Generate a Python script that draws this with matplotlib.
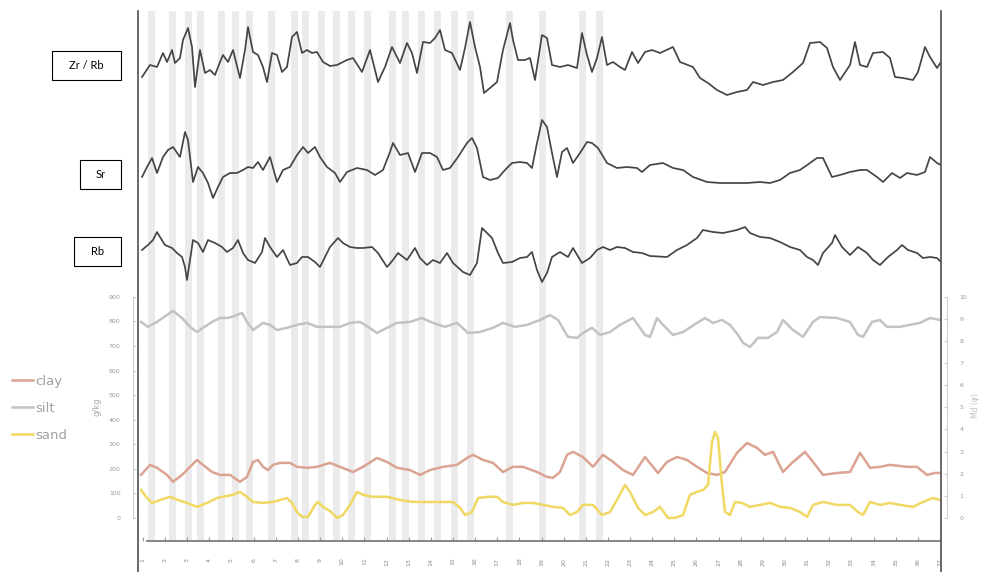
import numpy as np
import matplotlib
matplotlib.use("Agg")
import matplotlib.pyplot as plt
from matplotlib.patches import Rectangle

W, H, DPI = 982, 572, 100

# ---------------- XRF core-scanner signals (relative units) ----------------
zr_rb_depth = [1, 9, 16, 22, 26, 31, 34, 39, 42, 47, 51, 54, 59, 64, 69, 74, 79, 82, 87, 92,
               99, 104, 107, 112, 117, 122, 126, 131, 136, 141, 146, 151, 156, 161, 166, 171, 176, 182, 189, 196,
               206, 212, 221, 229, 237, 244, 251, 259, 266, 271, 276, 282, 289, 294, 299, 304, 311, 319, 324, 329,
               334, 339, 343, 349, 356, 362, 369, 372, 377, 384, 389, 394, 401, 406, 411, 419, 427, 436, 441, 446,
               451, 456, 461, 466, 472, 479, 484, 491, 497, 504, 511, 519, 532, 539, 552, 559, 567, 576, 586, 596,
               606, 612, 622, 632, 642, 652, 662, 669, 679, 686, 692, 699, 709, 714, 719, 726, 732, 742, 749, 754,
               762, 772, 777, 784, 789, 796, 800]
zr_rb = [23, 35, 33, 47, 38, 50, 37, 42, 60, 72, 53, 13, 50, 27, 30, 25, 38, 45, 38, 50,
         22, 50, 73, 48, 45, 33, 18, 47, 45, 28, 33, 63, 68, 47, 50, 47, 48, 38, 34, 35,
         40, 42, 28, 50, 18, 33, 53, 37, 57, 47, 27, 58, 57, 62, 70, 50, 47, 30, 52, 78,
         53, 33, 7, 12, 18, 50, 77, 60, 40, 40, 42, 20, 65, 62, 35, 33, 35, 32, 67, 45,
         28, 42, 63, 35, 38, 33, 30, 48, 37, 48, 50, 47, 53, 38, 33, 22, 17, 10, 5, 8,
         10, 18, 15, 18, 20, 28, 37, 57, 58, 52, 33, 20, 35, 58, 35, 33, 47, 48, 42, 23,
         22, 20, 28, 53, 43, 32, 38]

sr_depth = [1, 6, 11, 16, 22, 27, 32, 39, 44, 47, 52, 57, 62, 67, 72, 77, 82, 89, 96, 102,
            107, 112, 117, 122, 129, 136, 142, 149, 156, 162, 167, 174, 179, 186, 194, 199, 206, 216, 226, 234,
            242, 249, 252, 259, 267, 274, 281, 289, 296, 302, 309, 317, 326, 331, 336, 342, 349, 357, 364, 371,
            379, 386, 391, 396, 401, 406, 411, 416, 421, 426, 432, 439, 446, 451, 457, 466, 476, 486, 496, 501,
            509, 522, 532, 542, 552, 566, 579, 596, 606, 619, 629, 639, 649, 659, 669, 676, 682, 691, 699, 709,
            719, 726, 736, 742, 751, 759, 766, 776, 784, 789, 796, 800]
sr = [23, 33, 42, 27, 43, 50, 53, 43, 68, 60, 18, 33, 27, 17, 2, 13, 23, 27, 27, 30,
      33, 32, 38, 30, 43, 18, 30, 33, 45, 53, 47, 53, 43, 33, 27, 18, 28, 32, 30, 25,
      30, 48, 57, 45, 47, 28, 47, 47, 43, 30, 32, 43, 57, 62, 52, 23, 20, 22, 30, 37,
      38, 37, 32, 57, 80, 73, 47, 23, 48, 52, 37, 47, 58, 57, 52, 37, 32, 33, 32, 28,
      35, 37, 32, 30, 23, 18, 17, 17, 17, 18, 17, 20, 27, 30, 37, 42, 42, 23, 25, 28,
      30, 30, 23, 18, 27, 22, 27, 25, 28, 43, 37, 35]

rb_depth = [1, 7, 12, 16, 19, 24, 31, 36, 41, 44, 46, 49, 52, 57, 62, 67, 74, 81, 86, 92,
            97, 102, 107, 114, 121, 124, 129, 136, 142, 149, 156, 161, 167, 174, 179, 186, 189, 197, 202, 209,
            216, 222, 231, 237, 246, 252, 257, 266, 274, 279, 286, 292, 299, 306, 312, 322, 329, 336, 341, 346,
            351, 357, 362, 371, 379, 386, 391, 396, 401, 406, 411, 419, 427, 432, 441, 449, 456, 462, 469, 476,
            484, 492, 501, 509, 526, 536, 546, 556, 562, 572, 582, 596, 604, 609, 619, 629, 639, 649, 659, 666,
            672, 677, 682, 691, 694, 701, 709, 717, 726, 732, 739, 747, 756, 761, 767, 776, 782, 789, 796, 800]
rb = [35, 40, 45, 53, 48, 40, 37, 32, 28, 18, 5, 25, 45, 42, 33, 45, 42, 38, 33, 37,
      45, 32, 25, 22, 33, 47, 38, 28, 35, 20, 22, 28, 28, 23, 18, 32, 38, 47, 42, 38,
      37, 37, 38, 32, 18, 25, 32, 25, 37, 27, 20, 25, 22, 32, 22, 13, 10, 22, 57, 52,
      47, 32, 22, 23, 27, 28, 33, 15, 3, 12, 28, 33, 28, 37, 22, 27, 35, 38, 35, 38,
      37, 33, 32, 29, 28, 35, 40, 47, 55, 53, 52, 55, 58, 52, 48, 47, 43, 38, 35, 28,
      25, 20, 32, 42, 50, 38, 30, 38, 32, 25, 20, 28, 35, 40, 35, 32, 27, 28, 27, 23]

# ---------------- grain size fractions (g/kg) ----------------
silt_depth = [0, 7, 16, 26, 32, 41, 49, 56, 62, 71, 79, 87, 96, 101, 106, 112, 122, 129, 136, 146,
              156, 166, 176, 189, 199, 209, 219, 227, 236, 246, 256, 269, 281, 292, 304, 316, 327, 339, 352, 362,
              374, 386, 399, 409, 417, 427, 436, 442, 451, 459, 469, 479, 492, 504, 509, 516, 522, 532, 542, 556,
              564, 572, 581, 589, 597, 602, 609, 617, 627, 636, 642, 652, 662, 672, 679, 696, 709, 717, 722, 731,
              739, 746, 759, 769, 779, 789, 799]
silt = [798, 778, 798, 826, 843, 814, 778, 757, 774, 798, 814, 814, 826, 835, 798, 765, 794, 786, 765, 774,
        786, 794, 778, 778, 778, 794, 798, 778, 753, 774, 794, 798, 814, 794, 778, 794, 753, 757, 774, 794,
        778, 786, 806, 826, 806, 737, 733, 753, 774, 745, 757, 786, 814, 745, 737, 814, 786, 745, 757, 794,
        814, 794, 806, 786, 745, 713, 696, 733, 733, 757, 806, 765, 737, 798, 818, 814, 798, 745, 737, 798,
        806, 778, 778, 786, 794, 814, 806]

clay_depth = [0, 9, 16, 26, 32, 41, 49, 56, 62, 71, 79, 89, 99, 106, 112, 117, 122, 127, 132, 139,
              149, 156, 166, 176, 189, 199, 212, 222, 236, 246, 256, 269, 279, 289, 302, 316, 326, 332, 342, 352,
              362, 372, 382, 396, 406, 412, 419, 426, 432, 442, 452, 462, 472, 482, 492, 504, 512, 517, 526, 536,
              546, 556, 566, 576, 584, 596, 606, 616, 624, 632, 642, 652, 664, 672, 682, 696, 709, 719, 729, 739,
              749, 766, 776, 786, 794, 799]
clay = [175, 216, 204, 175, 147, 175, 208, 236, 216, 187, 175, 175, 147, 167, 228, 236, 208, 195, 216, 224,
        224, 208, 204, 208, 224, 208, 187, 208, 244, 228, 204, 195, 175, 195, 208, 216, 244, 257, 236, 224,
        187, 208, 208, 187, 167, 163, 187, 257, 269, 248, 208, 257, 228, 195, 175, 248, 208, 183, 228, 248,
        236, 208, 183, 175, 187, 265, 305, 285, 257, 269, 187, 228, 269, 228, 175, 183, 187, 265, 204, 208,
        216, 208, 208, 175, 183, 183]

sand_depth = [0, 6, 11, 19, 29, 37, 46, 56, 66, 76, 82, 92, 99, 106, 112, 122, 132, 139, 146, 151,
              156, 161, 167, 174, 177, 182, 189, 196, 202, 209, 216, 222, 232, 246, 259, 272, 286, 299, 312, 319,
              324, 331, 337, 347, 356, 362, 372, 382, 392, 402, 412, 422, 429, 436, 442, 452, 461, 469, 477, 484,
              489, 497, 504, 512, 519, 527, 534, 542, 549, 556, 562, 567, 571, 574, 577, 581, 584, 589, 594, 601,
              609, 619, 629, 639, 649, 659, 666, 672, 682, 696, 709, 717, 722, 729, 739, 749, 759, 772, 782, 792,
              799]
sand = [114, 81, 61, 73, 86, 73, 61, 45, 61, 81, 86, 94, 106, 86, 65, 61, 65, 73, 81, 61,
        24, 4, 4, 53, 65, 45, 28, 0, 12, 53, 106, 94, 86, 86, 73, 65, 65, 65, 65, 41,
        12, 24, 81, 86, 86, 65, 53, 61, 61, 53, 45, 41, 12, 24, 53, 53, 12, 24, 81, 134,
        106, 41, 12, 24, 45, 0, 0, 12, 94, 106, 114, 134, 309, 350, 326, 134, 24, 12, 65, 61,
        45, 53, 61, 45, 41, 24, 4, 53, 65, 53, 53, 24, 12, 65, 53, 61, 53, 45, 65, 81,
        73]

# shaded sample intervals (centre depths)
band_centres = [10.5, 31.5, 47.5, 59.5, 80.5, 94.5, 108.5, 130.5, 153.5, 164.5, 180.5, 195.5,
                210.5, 226.5, 251.5, 264, 280, 296.5, 313.5, 329.5, 368.5, 401.5, 441.5, 458.5]
band_width = 7

sample_labels = ["1", "2", "3", "4", "5", "6", "7", "8", "9", "10", "11", "12", "13", "14", "15",
                 "16", "17", "18", "19", "20", "21", "22", "23", "24", "25", "26", "27", "28", "29",
                 "30", "31", "32", "33", "34", "35", "36", "37"]

left_ticks = [0, 100, 200, 300, 400, 500, 600, 700, 800, 900]
right_ticks = [0, 1, 2, 3, 4, 5, 6, 7, 8, 9, 10]

XMIN, XMAX = -3, 800

fig = plt.figure(figsize=(W / DPI, H / DPI), dpi=DPI)
fig.patch.set_facecolor("white")


def px_axes(x0, y0, x1, y1, **kw):
    return fig.add_axes([x0 / W, 1 - y1 / H, (x1 - x0) / W, (y1 - y0) / H], **kw)


# background bands
ax_b = px_axes(138, 11, 941, 540)
ax_b.set_xlim(XMIN, XMAX)
ax_b.set_ylim(0, 1)
for c in band_centres:
    ax_b.axvspan(c - band_width / 2, c + band_width / 2, color="#ebebeb", lw=0)
ax_b.axis("off")

# XRF traces
trace_kw = dict(color="#454545", lw=1.25, solid_joinstyle="round")
for box, ylim, xs, ys in [((138, 15, 941, 100), (0, 85), zr_rb_depth, zr_rb),
                          ((138, 115, 941, 200), (0, 85), sr_depth, sr),
                          ((138, 225, 941, 285), (0, 60), rb_depth, rb)]:
    ax = px_axes(*box)
    ax.patch.set_alpha(0)
    ax.plot(xs, ys, **trace_kw)
    ax.set_xlim(XMIN, XMAX)
    ax.set_ylim(*ylim)
    ax.axis("off")

# grain-size panel
ax_g = px_axes(138, 290, 941, 541)
ax_g.patch.set_alpha(0)
ax_g.set_xlim(XMIN, XMAX)
ax_g.set_ylim(-94, 928)
l_clay, = ax_g.plot(clay_depth, clay, color="#dba392", lw=1.8, label="clay")
l_silt, = ax_g.plot(silt_depth, silt, color="#c2c2c8", lw=1.8, label="silt")
l_sand, = ax_g.plot(sand_depth, sand, color="#f0d862", lw=1.8, label="sand")

ax_g.spines["top"].set_visible(False)
ax_g.spines["left"].set_position(("outward", 3.6))
ax_g.spines["left"].set_bounds(0, 900)
ax_g.spines["left"].set_color("#cfcfcf")
ax_g.spines["left"].set_linewidth(0.8)
ax_g.spines["right"].set_visible(False)
ax_g.spines["bottom"].set_bounds(6, 799)
ax_g.spines["bottom"].set_color("#7c7c7c")
ax_g.spines["bottom"].set_linewidth(1.3)
ax_g.set_yticks(left_ticks)
ax_g.set_yticklabels([str(t) for t in left_ticks])
ax_g.tick_params(axis="y", direction="in", length=2, color="#cfcfcf", labelsize=4.5,
                 labelcolor="#9a9a9a", pad=9)
ax_g.set_xticks(np.linspace(2, 799, len(sample_labels)))
ax_g.set_xticklabels(sample_labels, rotation=90)
ax_g.tick_params(axis="x", direction="in", length=3, color="#9a9a9a", labelsize=4.5,
                 labelcolor="#8a8a8a", pad=12)

ax_r = ax_g.twinx()
ax_r.set_ylim(-94 / 90, 928 / 90)
for s in ["top", "left", "bottom"]:
    ax_r.spines[s].set_visible(False)
ax_r.spines["right"].set_position(("outward", 4.3))
ax_r.spines["right"].set_bounds(0, 10)
ax_r.spines["right"].set_color("#cfcfcf")
ax_r.spines["right"].set_linewidth(0.8)
ax_r.set_yticks(right_ticks)
ax_r.set_yticklabels([str(t) for t in right_ticks])
ax_r.tick_params(axis="y", direction="in", length=2, color="#cfcfcf", labelsize=4.5,
                 labelcolor="#9a9a9a", pad=9)

fig.text(97 / W, 1 - 407 / H, "g/kg", rotation=90, ha="center", va="center",
         fontsize=6, color="#a8a8a8")
fig.text(975 / W, 1 - 406 / H, "Md (φ)", rotation=90, ha="center", va="center",
         fontsize=5.5, color="#c0c0c0")

fig.legend(handles=[l_clay, l_silt, l_sand], labels=["clay", "silt", "sand"],
           loc="upper left", bbox_to_anchor=(12 / W, 1 - 375 / H), frameon=False,
           fontsize=9.5, handlelength=1.6, handletextpad=0.2, labelspacing=1.05,
           borderpad=0, borderaxespad=0, labelcolor="#a0a0a0")

# outer frame lines
ax_f = px_axes(138, 11, 941, 572)
ax_f.patch.set_alpha(0)
ax_f.set_xticks([])
ax_f.set_yticks([])
for s in ["top", "bottom"]:
    ax_f.spines[s].set_visible(False)
for s in ["left", "right"]:
    ax_f.spines[s].set_color("#505050")
    ax_f.spines[s].set_linewidth(1.2)

# element labels
for text, (x0, y0, x1, y1) in [("Zr / Rb", (52, 51, 121, 80)),
                               ("Sr", (80, 160, 121, 189)),
                               ("Rb", (74, 237, 121, 266))]:
    fig.add_artist(Rectangle((x0 / W, 1 - y1 / H), (x1 - x0) / W, (y1 - y0) / H,
                             transform=fig.transFigure, fill=False, ec="black", lw=0.8))
    fig.text((x0 + x1) / 2 / W, 1 - (y0 + y1) / 2 / H, text, ha="center", va="center",
             fontsize=8, family=["Lato", "DejaVu Sans"], color="black")

fig.savefig("out.png", dpi=DPI, facecolor="white")
